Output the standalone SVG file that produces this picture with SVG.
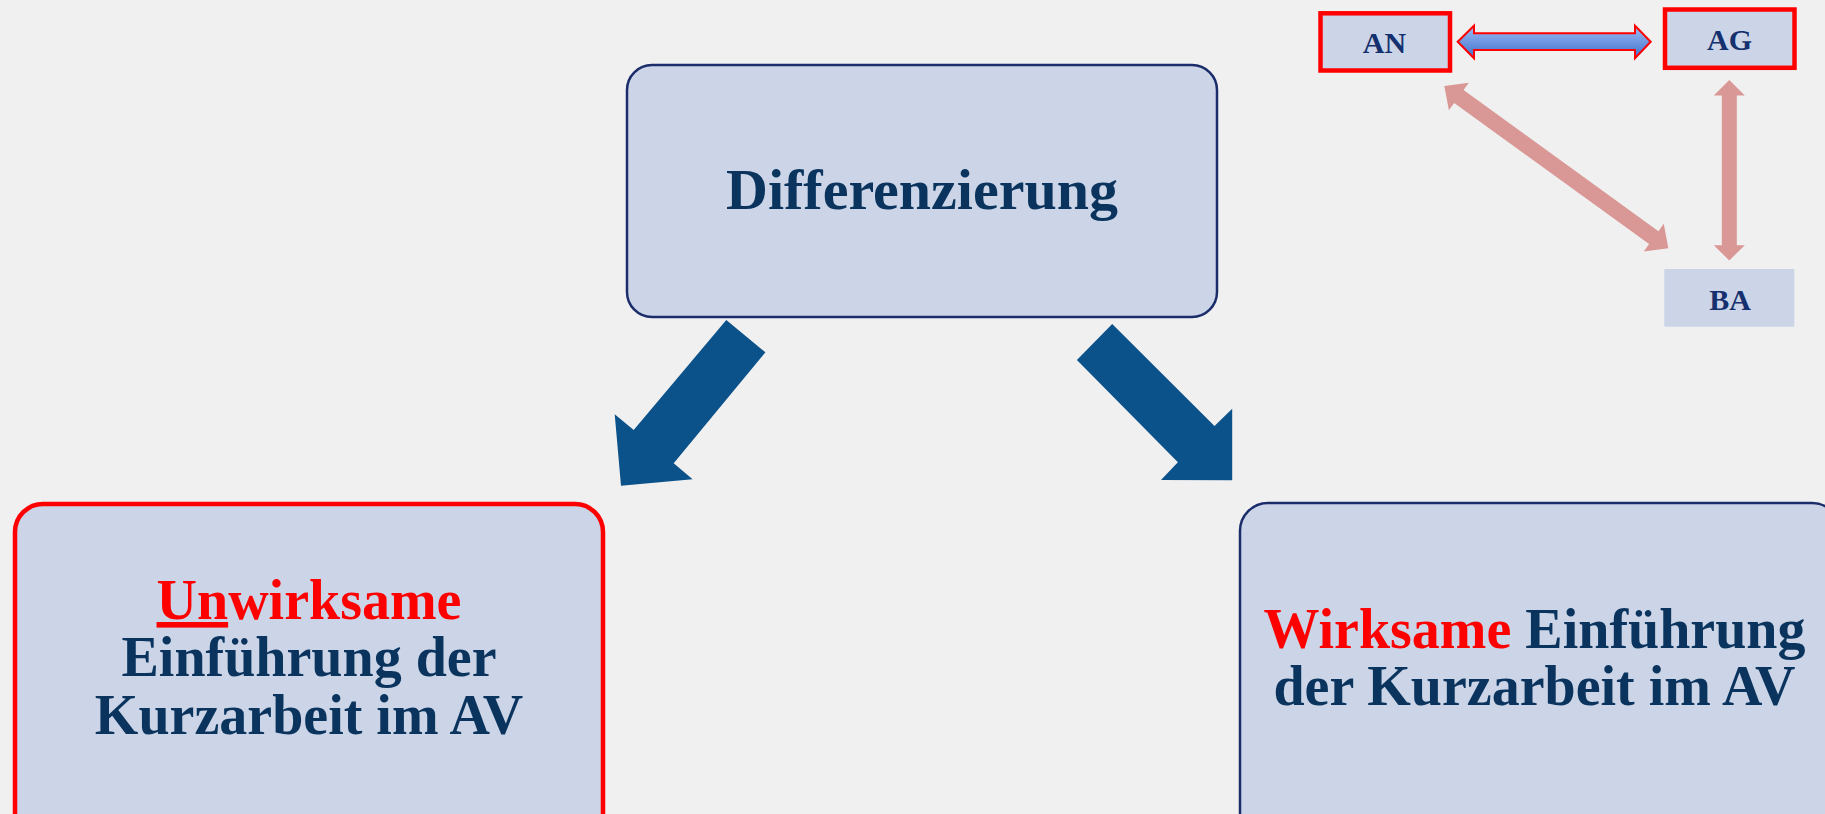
<svg xmlns="http://www.w3.org/2000/svg" width="1825" height="814" viewBox="0 0 1825 814">
<style>
.box{fill:#CBD5E7;}
.navy{stroke:#1B2C6B;stroke-width:2.5;}
.red{stroke:#FF0000;stroke-width:4.5;}
.t{font-family:"Liberation Serif","Times New Roman",serif;font-weight:bold;fill:#0A345E;text-anchor:middle;}
.s{font-family:"Liberation Serif","Times New Roman",serif;font-weight:bold;fill:#15306E;text-anchor:middle;font-size:30px;}
.hl{fill:#FF0000;}
.big{fill:#0B518A;}
.pink{fill:#D99795;}
</style>
<defs>
<linearGradient id="bg" x1="0" y1="0" x2="0" y2="1">
<stop offset="0" stop-color="#9DBEF8"/>
<stop offset="1" stop-color="#3F6FC8"/>
</linearGradient>
</defs>
<rect x="0" y="0" width="1825" height="814" fill="#F0F0F0"/>
<g id="connectors">
<polygon class="big" points="726.3,320 765.4,352.3 673.7,463.3 692.6,479.3 621,485.7 614.7,414.3 633.7,430"/>
<polygon class="big" points="1112.2,324 1076.9,360 1177.9,462.3 1161,480 1232.2,480.3 1232.2,408.7 1214.5,426"/>
<polygon points="1457.7,41.7 1474,25.7 1474,33.3 1635,33.3 1635,25.7 1650.7,41.7 1635,58.3 1635,50 1474,50 1474,58.3" fill="url(#bg)" stroke="#FF0000" stroke-width="2"/>
<g transform="translate(1444.3,86) rotate(35.9)">
<polygon class="pink" points="0,0 18,-17 18,-8 258.6,-8 258.6,-17 276.6,0 258.6,17 258.6,8 18,8 18,17"/>
</g>
<polygon class="pink" points="1729.3,80 1744.8,95.5 1736.8,95.5 1736.8,245.2 1744.8,245.2 1729.3,260.5 1713.8,245.2 1721.8,245.2 1721.8,95.5 1713.8,95.5"/>
</g>
<g id="differenzierung">
<rect class="box navy" x="627" y="65" width="590" height="252" rx="25"/>
<text class="t" x="922" y="209" font-size="58">Differenzierung</text>
</g>
<g id="unwirksame">
<rect class="box red" x="15" y="504" width="588" height="340" rx="28"/>
<text class="t" font-size="56" x="309" y="619"><tspan class="hl" text-decoration="underline">Un</tspan><tspan class="hl">wirksame</tspan></text>
<text class="t" font-size="56" x="309" y="676">Einführung der</text>
<text class="t" font-size="56" x="309" y="734">Kurzarbeit im AV</text>
</g>
<g id="wirksame">
<rect class="box navy" x="1240" y="503" width="600" height="340" rx="28"/>
<text class="t" font-size="56" x="1534.5" y="648"><tspan class="hl">Wirksame</tspan> Einführung</text>
<text class="t" font-size="56" x="1534.5" y="705">der Kurzarbeit im AV</text>
</g>
<g id="an">
<rect class="box red" x="1320.5" y="13.3" width="129.5" height="57.2"/>
<text class="s" x="1384.5" y="52.5">AN</text>
</g>
<g id="ag">
<rect class="box red" x="1665" y="9.5" width="129.5" height="58.3"/>
<text class="s" x="1729.5" y="50">AG</text>
</g>
<g id="ba">
<rect class="box" x="1664.3" y="269" width="130" height="57.7"/>
<text class="s" x="1730" y="309.5">BA</text>
</g>
</svg>
